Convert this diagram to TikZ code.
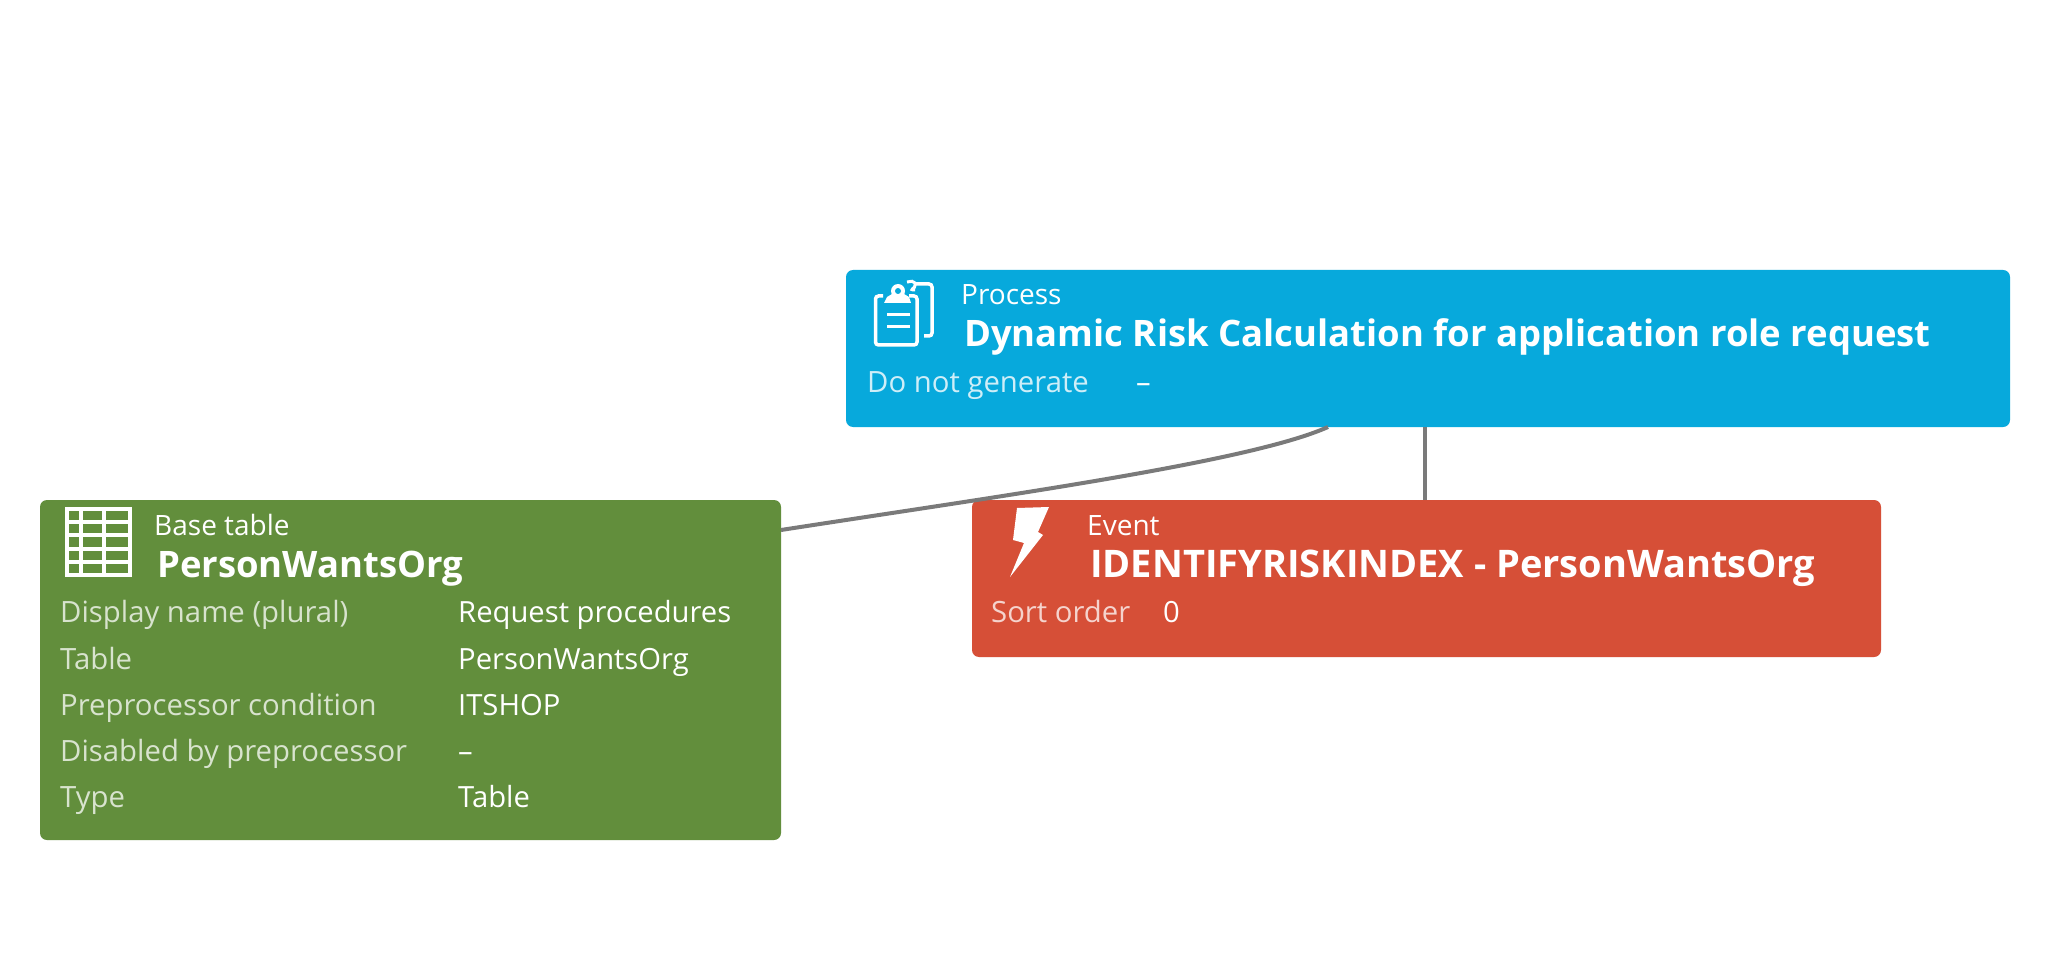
\documentclass[tikz,border=0pt]{standalone}
\usepackage{fontspec}
\setmainfont{Open Sans}
\definecolor{blueBox}{HTML}{07A9DC}
\definecolor{greenBox}{HTML}{628E3C}
\definecolor{redBox}{HTML}{D64F37}
\definecolor{lineGrey}{HTML}{7A7A7A}
\tikzset{
  box/.style={rounded corners=7pt,inner sep=0pt,draw=none},
  kind/.style={anchor=base west,inner sep=0pt,text=white,font=\fontsize{28}{32}\selectfont},
  head/.style={anchor=base west,inner sep=0pt,text=white,font=\fontsize{36.45}{42}\bfseries\selectfont},
  lab/.style={anchor=base west,inner sep=0pt,font=\fontsize{29.3}{34}\selectfont},
  val/.style={anchor=base west,inner sep=0pt,text=white,font=\fontsize{29.2}{34}\selectfont},
  conn/.style={draw=lineGrey,line width=4pt},
  icon/.style={draw=white,line width=3.5pt}
}
\begin{document}
\begin{tikzpicture}[x=1pt,y=-1pt]
\useasboundingbox (0,0) rectangle (2048,965);
\fill[white] (0,0) rectangle (2048,965);
\coordinate (gOut) at (781,530);
\coordinate (bOutA) at (1328,427);
\node[box,fill=blueBox,minimum width=1164pt,minimum height=157pt] (blue) at (1428,348.5) {};
\node[box,fill=greenBox,minimum width=741pt,minimum height=340pt] (green) at (410.5,670) {};
\node[box,fill=redBox,minimum width=909pt,minimum height=157pt] (red) at (1426.5,578.5) {};
\coordinate (rIn) at ([xshift=-1.5pt]red.north);
\draw[conn] (gOut) .. controls (1000,496) and (1250,462) .. (bOutA);
\draw[conn] (rIn |- blue.south) -- (rIn);
% blue box
\node[kind] (bKind) at (961,305) {Process};
\node[head] (bHead) at (964,347) {Dynamic Risk Calculation for application role request};
\node[lab,text=white!80!blueBox] (bL) at (867,392) {Do not generate};
\node[val] (bV) at (1136,392) {–};
% green box
\node[kind] (gKind) at (154,535) {Base table};
\node[head] (gHead) at (157,577) {PersonWantsOrg};
\foreach \n/\y/\l/\v in {a/622/Display name (plural)/Request procedures,
  b/669/Table/PersonWantsOrg,
  c/715/Preprocessor condition/ITSHOP,
  d/761/Disabled by preprocessor/–,
  e/807/Type/Table}{
  \node[lab,text=white!75!greenBox] (gL\n) at (60,\y) {\l};
  \node[val] (gV\n) at (458,\y) {\v};
}
% red box
\node[kind] (rKind) at (1087,535) {Event};
\node[head,font=\fontsize{38}{42}\bfseries\selectfont] (rHead) at (1090,577) {IDENTIFYRISKINDEX - PersonWantsOrg};
\node[lab,text=white!75!redBox] (rL) at (991,622) {Sort order};
\node[val] (rV) at (1163,622) {0};
% clipboard icon
\draw[icon,rounded corners=3pt] (883,296) -- (875.5,296) -- (875.5,345) -- (917,345) -- (917,296) -- (909,296);
\draw[icon,rounded corners=3pt] (915,284) -- (932,284) -- (932,336) -- (924,336);
\fill[white] (884,303) -- (887,297) -- (892,294) -- (904,294) -- (909,297) -- (911,303) -- cycle;
\fill[white] (898,291) circle (7pt);
\fill[blueBox] (898,291) circle (3pt);
\draw[white,line width=3pt,rounded corners=2pt] (907,282) -- (914,281) -- (916,286) -- (911,290) -- (915,290);
\draw[white,line width=3pt] (887,315) -- (910,315) (887,327) -- (910,327);
% table icon
\draw[icon,line width=4.5pt] (67,509) rectangle (130,575);
\draw[icon,line width=4pt] (67,522) -- (130,522) (67,535) -- (130,535) (67,549) -- (130,549) (67,562) -- (130,562);
\draw[icon,line width=4pt] (81,509) -- (81,575) (104,509) -- (104,575);
% lightning icon
\fill[white] (1017,508) -- (1049,507) -- (1038,532) -- (1043,535) -- (1010,577) -- (1024,543) -- (1013,540) -- cycle;
\end{tikzpicture}
\end{document}
